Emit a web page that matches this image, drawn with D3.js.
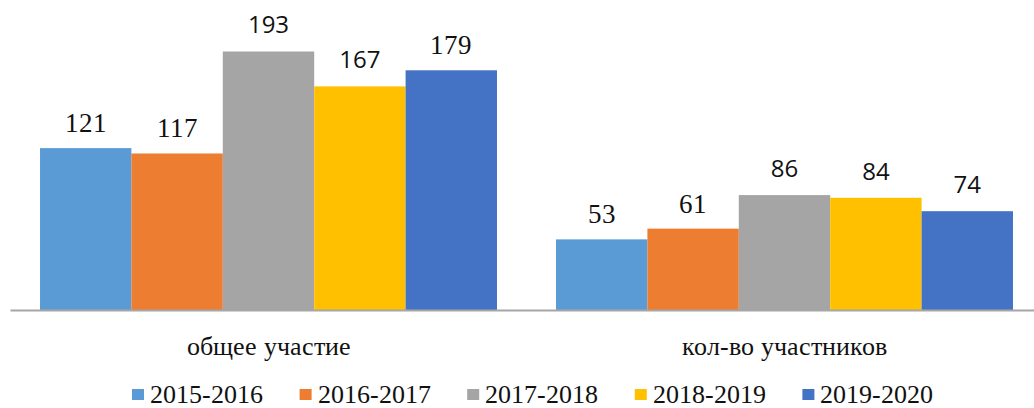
<!DOCTYPE html>
<html><head><meta charset="utf-8">
<script src="https://cdn.jsdelivr.net/npm/d3@7"></script>
<style>
@font-face{font-family:"SerifX";src:local("Liberation Serif"),local("LiberationSerif"),local("LiberationSerif-Regular"),local("Tinos"),local("Tinos-Regular"),local("DejaVu Serif"),local("DejaVuSerif"),local("Noto Serif"),local("NotoSerif-Regular");}
body{margin:0;background:#fff}svg{display:block}
.serif{font-family:"SerifX","Liberation Serif","Times New Roman",Times,"DejaVu Serif",serif}
.sans{font-family:"Open Sans","Liberation Sans",Arial,sans-serif}
</style>
</head><body>
<svg id="c" width="1034" height="408"></svg>
<script>
const categories = ["общее участие", "кол-во участников"];
const seriesNames = ["2015-2016", "2016-2017", "2017-2018", "2018-2019", "2019-2020"];
const values2015 = [121, 53];
const values2016 = [117, 61];
const values2017 = [193, 86];
const values2018 = [167, 84];
const values2019 = [179, 74];
const seriesValues = [values2015, values2016, values2017, values2018, values2019];

const colors = ["#5b9bd5", "#ed7d31", "#a5a5a5", "#ffc000", "#4472c4"];
// label font per [series][category]: true = serif
const serifLabel = [[true, true],[true, true],[false,false],[false,false],[true,false]];

const svg = d3.select("#c");
const baseY = 310.5;
const x0 = d3.scaleBand().domain(categories).range([10.5, 1042.5]).paddingInner(0).paddingOuter(0);
const x1 = d3.scaleBand().domain(seriesNames).range([0, x0.bandwidth()]).paddingOuter(0.323).paddingInner(0);
const y = d3.scaleLinear().domain([0, 230]).range([baseY, baseY - 230 * 1.342]);

const groups = svg.selectAll("g.cat").data(categories).join("g")
  .attr("transform", d => `translate(${x0(d)},0)`);

seriesNames.forEach((s, si) => {
  groups.append("rect")
    .attr("x", (d) => x1(s))
    .attr("width", x1.bandwidth())
    .attr("y", (d, ci) => y(seriesValues[si][ci]))
    .attr("height", (d, ci) => baseY - y(seriesValues[si][ci]))
    .attr("fill", colors[si]);
  groups.append("text")
    .attr("class", (d, ci) => serifLabel[si][ci] ? "serif" : "sans")
    .attr("x", x1(s) + x1.bandwidth() / 2)
    .attr("y", (d, ci) => y(seriesValues[si][ci]) - (serifLabel[si][ci] ? 16 : 18))
    .attr("text-anchor", "middle")
    .style("font-size", (d, ci) => serifLabel[si][ci] ? "27px" : "24px")
    .attr("fill", "#111")
    .text((d, ci) => seriesValues[si][ci]);
});

// axis
svg.append("g").attr("transform", `translate(0,${baseY})`)
  .call(d3.axisBottom(x0).tickSize(0).tickPadding(0))
  .call(g => g.attr("font-family", null).attr("font-size", null))
  .call(g => g.select(".domain").attr("stroke", "#a6a6a6").attr("stroke-width", 2).attr("d", "M10.5,0H1034"))
  .call(g => g.selectAll("text").attr("class", "serif").attr("dy", 0).attr("y", 44)
    .style("font-size", "26px").attr("fill", "#111"));

// legend
const leg = svg.append("g").attr("transform", "translate(132,0)");
const items = leg.selectAll("g").data(seriesNames).join("g")
  .attr("transform", (d, i) => `translate(${i * 167.6},0)`);
items.append("rect").attr("x", 0).attr("y", 389).attr("width", 12).attr("height", 11)
  .attr("fill", (d, i) => colors[i]);
items.append("text").attr("class", "serif").attr("x", 18).attr("y", 403)
  .style("font-size", "26px").attr("fill", "#111")
  .text(d => d);
</script>
</body></html>
